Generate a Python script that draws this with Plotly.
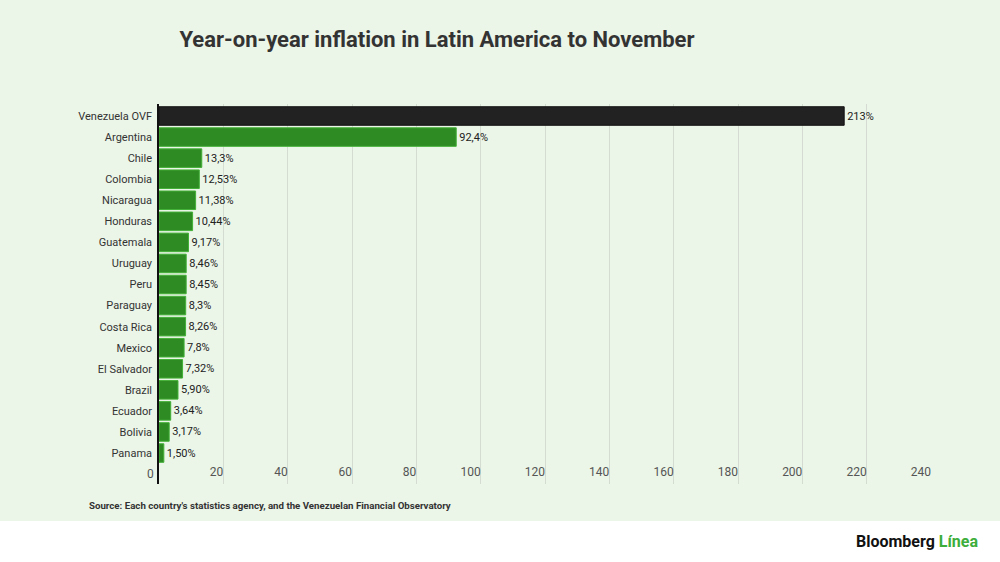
import plotly.graph_objects as go

# data
countries = ["Venezuela OVF", "Argentina", "Chile", "Colombia", "Nicaragua", "Honduras",
             "Guatemala", "Uruguay", "Peru", "Paraguay", "Costa Rica", "Mexico",
             "El Salvador", "Brazil", "Ecuador", "Bolivia", "Panama"]
inflation = [213, 92.4, 13.3, 12.53, 11.38, 10.44, 9.17, 8.46, 8.45, 8.3, 8.26, 7.8,
             7.32, 5.90, 3.64, 3.17, 1.50]
value_labels = ["213%", "92,4%", "13,3%", "12,53%", "11,38%", "10,44%", "9,17%", "8,46%",
                "8,45%", "8,3%", "8,26%", "7,8%", "7,32%", "5,90%", "3,64%", "3,17%", "1,50%"]
x_ticks = [20, 40, 60, 80, 100, 120, 140, 160, 180, 200, 220, 240]

BG = "#EBF5E8"
fills = ["#222222"] + ["#2E8A22"] * (len(countries) - 1)
lines = ["#111111"] + ["#43B037"] * (len(countries) - 1)

fig = go.Figure(go.Bar(
    x=inflation, y=countries, orientation="h",
    marker=dict(color=fills, line=dict(color=lines, width=1)),
    text=value_labels, textposition="outside", cliponaxis=False,
    textfont=dict(family="Roboto", size=11, color="#222222"),
    width=0.88,
))

fig.update_layout(
    width=1000, height=562, autosize=False,
    margin=dict(l=159, r=68, t=104, b=78),
    paper_bgcolor=BG, plot_bgcolor=BG,
    font=dict(family="Roboto", color="#333333"),
    showlegend=False,
    title=dict(text="<b>Year-on-year inflation in Latin America to November</b>",
               x=0.437, xanchor="center", y=1 - 39 / 562, yanchor="middle",
               font=dict(family="Roboto", size=22, color="#333333")),
    xaxis=dict(range=[0, 240.3], tickvals=x_ticks, showgrid=True, gridcolor="#D4DCD2",
               gridwidth=1, zeroline=False, ticklabelposition="inside left",
               tickfont=dict(size=12, color="#555555"), fixedrange=True),
    yaxis=dict(range=[17.47, -0.57], showline=True, linecolor="#111111", linewidth=1.5,
               ticks="outside", ticklen=3, tickcolor="rgba(0,0,0,0)",
               tickfont=dict(size=11, color="#333333"), showgrid=False),
    bargap=0.12,
)

# zero label sits left of the axis line
fig.add_annotation(text="0", xref="x", yref="paper", x=0, y=0, xanchor="right",
                   yanchor="bottom", xshift=-3, yshift=1, showarrow=False,
                   font=dict(size=12, color="#555555"))

# white footer band
fig.add_shape(type="rect", xref="paper", yref="paper", x0=-0.3, x1=1.2,
              y0=-0.3, y1=(484 - 521) / 380, fillcolor="white", line_width=0,
              layer="below")

fig.add_annotation(text="<b>Source: Each country's statistics agency, and the Venezuelan Financial Observatory</b>",
                   xref="paper", yref="paper", x=(87 - 159) / 773, y=(484 - 505) / 380,
                   xanchor="left", yanchor="middle", showarrow=False,
                   font=dict(family="Roboto", size=9.7, color="#333333"))

fig.add_annotation(text="<b>Bloomberg</b> <b><span style='color:#3DAE3B'>Línea</span></b>",
                   xref="paper", yref="paper", x=(980 - 159) / 773, y=(484 - 541) / 380,
                   xanchor="right", yanchor="middle", showarrow=False,
                   font=dict(family="Roboto", size=16, color="#111111"))

fig.write_html("out.html", config={"displayModeBar": False},
               post_script="document.body.style.margin='0';document.body.style.overflow='hidden';")
